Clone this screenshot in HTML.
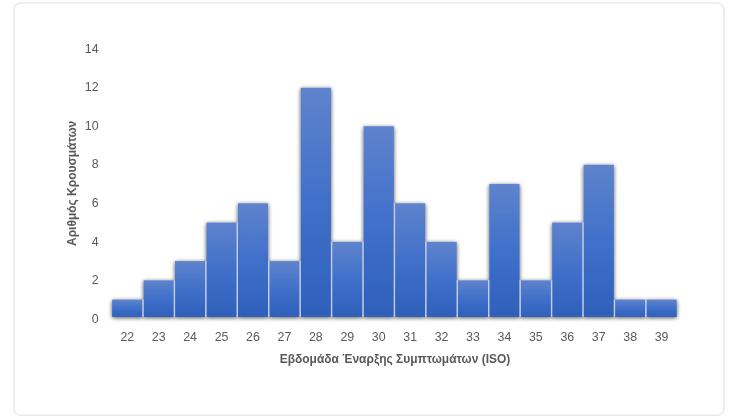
<!DOCTYPE html>
<html lang="el">
<head>
<meta charset="utf-8">
<title>Αριθμός Κρουσμάτων ανά Εβδομάδα Έναρξης Συμπτωμάτων (ISO)</title>
<style>
html,body{margin:0;padding:0;background:#ffffff;}
body{width:734px;height:418px;overflow:hidden;font-family:"Liberation Sans",sans-serif;}
svg{display:block;}
.t{font-family:"Liberation Sans",sans-serif;font-size:12.4px;fill:#595959;}
.b{font-family:"Liberation Sans",sans-serif;font-size:12.2px;font-weight:bold;fill:#595959;}
</style>
</head>
<body>
<svg width="734" height="418" viewBox="0 0 734 418">
<defs>
<linearGradient id="g" x1="0" y1="0" x2="0" y2="1">
<stop offset="0" stop-color="#5f83cc"/>
<stop offset="0.5" stop-color="#4070ca"/>
<stop offset="1" stop-color="#2e60ba"/>
</linearGradient>
<filter id="sh" x="-20%" y="-20%" width="150%" height="150%">
<feGaussianBlur in="SourceAlpha" stdDeviation="2"/>
<feOffset dx="0.3" dy="1" result="o"/>
<feComponentTransfer><feFuncA type="linear" slope="0.7"/></feComponentTransfer>
<feMerge><feMergeNode/><feMergeNode in="SourceGraphic"/></feMerge>
</filter>
</defs>
<rect x="0" y="0" width="734" height="418" fill="#ffffff"/>
<rect x="14" y="3" width="709.8" height="412.2" rx="6.5" ry="6.5" fill="#ffffff" stroke="#e9e9e9" stroke-width="1.5"/>

<g filter="url(#sh)">
<rect x="112.15" y="299.60" width="30.25" height="17.30" fill="url(#g)"/>
<rect x="143.58" y="280.34" width="30.25" height="36.56" fill="url(#g)"/>
<rect x="175.01" y="261.08" width="30.25" height="55.82" fill="url(#g)"/>
<rect x="206.44" y="222.56" width="30.25" height="94.34" fill="url(#g)"/>
<rect x="237.87" y="203.30" width="30.25" height="113.60" fill="url(#g)"/>
<rect x="269.30" y="261.08" width="30.25" height="55.82" fill="url(#g)"/>
<rect x="300.73" y="87.74" width="30.25" height="229.16" fill="url(#g)"/>
<rect x="332.16" y="241.82" width="30.25" height="75.08" fill="url(#g)"/>
<rect x="363.59" y="126.26" width="30.25" height="190.64" fill="url(#g)"/>
<rect x="395.02" y="203.30" width="30.25" height="113.60" fill="url(#g)"/>
<rect x="426.45" y="241.82" width="30.25" height="75.08" fill="url(#g)"/>
<rect x="457.88" y="280.34" width="30.25" height="36.56" fill="url(#g)"/>
<rect x="489.31" y="184.04" width="30.25" height="132.86" fill="url(#g)"/>
<rect x="520.74" y="280.34" width="30.25" height="36.56" fill="url(#g)"/>
<rect x="552.17" y="222.56" width="30.25" height="94.34" fill="url(#g)"/>
<rect x="583.60" y="164.78" width="30.25" height="152.12" fill="url(#g)"/>
<rect x="615.03" y="299.60" width="30.25" height="17.30" fill="url(#g)"/>
<rect x="646.46" y="299.60" width="30.25" height="17.30" fill="url(#g)"/>
</g>
<line x1="142.99" y1="299.60" x2="142.99" y2="316.90" stroke="#c2cdea" stroke-width="1.38"/>
<line x1="174.42" y1="280.34" x2="174.42" y2="316.90" stroke="#c2cdea" stroke-width="1.38"/>
<line x1="205.85" y1="261.08" x2="205.85" y2="316.90" stroke="#c2cdea" stroke-width="1.38"/>
<line x1="237.28" y1="222.56" x2="237.28" y2="316.90" stroke="#c2cdea" stroke-width="1.38"/>
<line x1="268.71" y1="261.08" x2="268.71" y2="316.90" stroke="#c2cdea" stroke-width="1.38"/>
<line x1="300.14" y1="261.08" x2="300.14" y2="316.90" stroke="#c2cdea" stroke-width="1.38"/>
<line x1="331.57" y1="241.82" x2="331.57" y2="316.90" stroke="#c2cdea" stroke-width="1.38"/>
<line x1="363.00" y1="241.82" x2="363.00" y2="316.90" stroke="#c2cdea" stroke-width="1.38"/>
<line x1="394.43" y1="203.30" x2="394.43" y2="316.90" stroke="#c2cdea" stroke-width="1.38"/>
<line x1="425.86" y1="241.82" x2="425.86" y2="316.90" stroke="#c2cdea" stroke-width="1.38"/>
<line x1="457.29" y1="280.34" x2="457.29" y2="316.90" stroke="#c2cdea" stroke-width="1.38"/>
<line x1="488.72" y1="280.34" x2="488.72" y2="316.90" stroke="#c2cdea" stroke-width="1.38"/>
<line x1="520.15" y1="280.34" x2="520.15" y2="316.90" stroke="#c2cdea" stroke-width="1.38"/>
<line x1="551.58" y1="280.34" x2="551.58" y2="316.90" stroke="#c2cdea" stroke-width="1.38"/>
<line x1="583.01" y1="222.56" x2="583.01" y2="316.90" stroke="#c2cdea" stroke-width="1.38"/>
<line x1="614.44" y1="299.60" x2="614.44" y2="316.90" stroke="#c2cdea" stroke-width="1.38"/>
<line x1="645.87" y1="299.60" x2="645.87" y2="316.90" stroke="#c2cdea" stroke-width="1.38"/>
<text class="t" x="98.6" y="322.65" text-anchor="end">0</text>
<text class="t" x="98.6" y="284.11" text-anchor="end">2</text>
<text class="t" x="98.6" y="245.57" text-anchor="end">4</text>
<text class="t" x="98.6" y="207.03" text-anchor="end">6</text>
<text class="t" x="98.6" y="168.49" text-anchor="end">8</text>
<text class="t" x="98.6" y="129.95" text-anchor="end">10</text>
<text class="t" x="98.6" y="91.41" text-anchor="end">12</text>
<text class="t" x="98.6" y="52.87" text-anchor="end">14</text>
<text class="t" x="127.28" y="341.1" text-anchor="middle">22</text>
<text class="t" x="158.71" y="341.1" text-anchor="middle">23</text>
<text class="t" x="190.13" y="341.1" text-anchor="middle">24</text>
<text class="t" x="221.56" y="341.1" text-anchor="middle">25</text>
<text class="t" x="253.00" y="341.1" text-anchor="middle">26</text>
<text class="t" x="284.43" y="341.1" text-anchor="middle">27</text>
<text class="t" x="315.86" y="341.1" text-anchor="middle">28</text>
<text class="t" x="347.28" y="341.1" text-anchor="middle">29</text>
<text class="t" x="378.72" y="341.1" text-anchor="middle">30</text>
<text class="t" x="410.14" y="341.1" text-anchor="middle">31</text>
<text class="t" x="441.58" y="341.1" text-anchor="middle">32</text>
<text class="t" x="473.00" y="341.1" text-anchor="middle">33</text>
<text class="t" x="504.43" y="341.1" text-anchor="middle">34</text>
<text class="t" x="535.87" y="341.1" text-anchor="middle">35</text>
<text class="t" x="567.29" y="341.1" text-anchor="middle">36</text>
<text class="t" x="598.73" y="341.1" text-anchor="middle">37</text>
<text class="t" x="630.15" y="341.1" text-anchor="middle">38</text>
<text class="t" x="661.58" y="341.1" text-anchor="middle">39</text>
<text class="b" x="395" y="363.2" text-anchor="middle" textLength="230.5" lengthAdjust="spacingAndGlyphs">Εβδομάδα Έναρξης Συμπτωμάτων (ISO)</text>
<text class="b" transform="translate(76.1,183.4) rotate(-90)" x="0" y="0" text-anchor="middle" textLength="125.2" lengthAdjust="spacingAndGlyphs">Αριθμός Κρουσμάτων</text>
</svg>
</body>
</html>
